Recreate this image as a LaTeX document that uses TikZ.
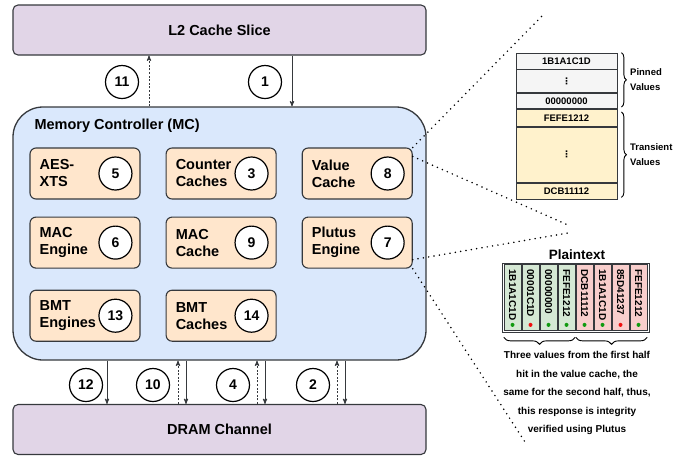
\documentclass[tikz,border=0pt]{standalone}
\usepackage{fontspec}
\setmainfont{Liberation Sans}
\newfontfamily\symfont{DejaVu Sans}
\usetikzlibrary{arrows,positioning,decorations.pathreplacing}
\definecolor{lila}{HTML}{E1D5E7}
\definecolor{mcblue}{HTML}{DAE8FC}
\definecolor{peach}{HTML}{FFE6CC}
\definecolor{pinfill}{HTML}{F5F5F5}
\definecolor{transfill}{HTML}{FFF2CC}
\definecolor{okfill}{HTML}{D5E8D4}
\definecolor{badfill}{HTML}{F8CECC}
\definecolor{dotok}{HTML}{109A10}
\definecolor{dotbad}{HTML}{F01010}
\definecolor{edge}{HTML}{36393D}
\newcommand{\bigfont}{\bfseries\fontsize{14.5}{17}\selectfont}
\newcommand{\smallfont}{\bfseries\fontsize{9.5}{15}\selectfont}
\newcommand{\threedots}{{\symfont\fontsize{9}{10}\selectfont ⋮}}
\tikzset{
    %Define standard arrow tip
    >=stealth',
    %Define style for the cache and dram slabs
    slab/.style={
           rectangle,
           rounded corners=5pt,
           draw=edge, line width=1.1pt,
           fill=lila,
           minimum width=413pt,
           minimum height=50pt,
           font=\bigfont},
    mcbox/.style={
           rectangle,
           rounded corners=30pt,
           draw=edge, line width=1.3pt,
           fill=mcblue,
           minimum width=413pt,
           minimum height=253pt},
    unitbox/.style={
           rectangle,
           rounded corners=6pt,
           draw=edge, line width=1.1pt,
           fill=peach,
           minimum width=110pt,
           minimum height=51pt},
    unitlabel/.style={
           align=left,
           inner sep=0pt,
           font=\bigfont},
    % numbered circles
    badge/.style={
           circle,
           draw=black, line width=1.2pt,
           fill=white,
           minimum size=33pt,
           inner sep=0pt,
           font=\bfseries\fontsize{14}{16}\selectfont},
    % Define arrow styles
    flow/.style={
           ->,
           line width=0.9pt,
           draw=edge},
    flowback/.style={
           ->,
           line width=0.9pt,
           draw=edge,
           dash pattern=on 2pt off 1.6pt},
    valcell/.style={
           rectangle,
           draw=edge, line width=0.8pt,
           minimum width=101pt,
           inner sep=0pt,
           font=\smallfont},
    ptcell/.style={
           rectangle,
           draw=edge, line width=0.7pt,
           minimum width=16.8pt,
           minimum height=66pt,
           inner sep=0pt},
    zoomline/.style={
           line width=1.7pt,
           line cap=round,
           dash pattern=on 0pt off 5.4pt},
    bracket/.style={
           decorate,
           decoration={brace, amplitude=#1},
           line width=0.9pt}
}
\begin{document}
\begin{tikzpicture}[x=1pt,y=-1pt]
\useasboundingbox (0,0) rectangle (697,459);
\node[slab] (l2) at (219.5,30) {L2 Cache Slice};
\node[mcbox] (mc) at (219.5,233.5) {};
\node[slab] (dram) at (219.5,429.5) {DRAM Channel};
\node[below right=12pt and 22pt of mc.north west, inner sep=0pt, font=\bigfont] (mctitle) {Memory Controller (MC)};
\node[unitbox] (aes) at (85,173.5) {};
\node[unitbox, right=25pt of aes] (ctr) {};
\node[unitbox, right=25pt of ctr] (vc) {};
\node[unitbox, below=17pt of aes] (mace) {};
\node[unitbox, right=25pt of mace] (macc) {};
\node[unitbox, right=25pt of macc] (plu) {};
\node[unitbox, below=21pt of mace] (bmte) {};
\node[unitbox, right=25pt of bmte] (bmtc) {};
\foreach \u/\txt/\n in {aes/AES-\\XTS/5, ctr/Counter\\Caches/3, vc/Value\\Cache/8,
    mace/MAC\\Engine/6, macc/MAC\\Cache/9, plu/Plutus\\Engine/7,
    bmte/BMT\\Engines/13, bmtc/BMT\\Caches/14}{
  \node[unitlabel, right=10pt of \u.west] (\u-txt) {\txt};
  \node[badge, left=8pt of \u.east] (n\n) {\n};
}
% traffic to and from the L2
\node[badge] (n11) at (122,82) {11};
\node[badge] (n1) at (265,82) {1};
\coordinate (a11) at ([xshift=27pt]n11.center);
\coordinate (a1) at ([xshift=27pt]n1.center);
\draw[flow] (l2.south -| a1) -- (mc.north -| a1);
\draw[flowback] (mc.north -| a11) -- (l2.south -| a11);
% traffic to and from the DRAM
\node[badge] (n12) at (86,385) {12};
\node[badge] (n10) at (153,385) {10};
\node[badge] (n4) at (233,385) {4};
\node[badge] (n2) at (313,385) {2};
\foreach \n/\dx in {12/21, 10/33, 4/32, 2/32}{
  \coordinate (d\n) at ([xshift=\dx pt]n\n.center);
  \draw[flow] (mc.south -| d\n) -- (dram.north -| d\n);
}
\foreach \n/\dx in {10/25, 4/24, 2/24}{
  \coordinate (u\n) at ([xshift=\dx pt]n\n.center);
  \draw[flowback] (dram.north -| u\n) -- (mc.south -| u\n);
}
% value cache contents
\node[valcell, fill=pinfill, minimum height=16pt] (pin1) at (566.5,61) {1B1A1C1D};
\node[valcell, fill=pinfill, minimum height=23pt, below=0pt of pin1] (pin2) {\threedots};
\node[valcell, fill=pinfill, minimum height=15pt, below=0pt of pin2] (pin3) {00000000};
\node[valcell, fill=transfill, minimum height=17pt, below=0pt of pin3] (tr1) {FEFE1212};
\node[valcell, fill=transfill, minimum height=55pt, below=0pt of tr1] (tr2) {\threedots};
\node[valcell, fill=transfill, minimum height=16pt, below=0pt of tr2] (tr3) {DCB11112};
\draw[bracket=5pt] ([xshift=4pt]pin1.north east) -- ([xshift=4pt,yshift=2pt]pin3.south east)
  node[midway, right=5pt, align=left, font=\smallfont] (pinlabel) {Pinned\\Values};
\draw[bracket=5pt] ([xshift=4pt,yshift=-3pt]tr1.north east) -- ([xshift=4pt,yshift=2pt]tr3.south east)
  node[midway, right=5pt, align=left, font=\smallfont] (translabel) {Transient\\Values};
% plaintext block
\node[font=\bfseries\fontsize{13.5}{16}\selectfont] (pttitle) at (577,255) {Plaintext};
\node[rectangle, draw=edge, line width=1pt, minimum width=147pt, minimum height=69pt, inner sep=0pt] (ptframe) at (575.5,297.5) {};
\foreach \val/\fc/\dc [count=\i] in {1B1A1C1D/okfill/dotok, 00001C1D/okfill/dotbad,
    00000000/okfill/dotok, FEFE1212/okfill/dotok, DCB11112/badfill/dotok,
    1B1A1C1D/badfill/dotok, 85D41237/badfill/dotbad, FEFE1212/badfill/dotok}{
  \node[ptcell, fill=\fc] (pc\i) at ({503.5+18*(\i-0.5)},297.5) {};
  \node[rotate=-90, anchor=west, inner sep=0pt, font=\bfseries\fontsize{10}{12}\selectfont] (pv\i) at ([yshift=-5pt]pc\i.north) {\val};
  \fill[\dc] ([yshift=6pt]pc\i.south) circle (2pt);
}
\draw[bracket=7pt] ([yshift=-6.5pt]pc4.south east) -- ([yshift=-6.5pt]pc1.south west);
\draw[bracket=7pt] ([yshift=-6.5pt]pc8.south east) -- ([yshift=-6.5pt]pc5.south west);
\node[anchor=north, align=center, inner sep=0pt, font=\bfseries\fontsize{10}{18.5}\selectfont] (desc) at (577,351.5)
  {Three values from the first half\\hit in the value cache, the\\same for the second half, thus,\\this response is integrity\\verified using Plutus};
% zoom lines
\coordinate (z1) at (545,13);
\coordinate (z2) at (568,225);
\coordinate (z3) at (568,233);
\coordinate (z4) at (525,442);
\draw[zoomline] (vc.north east) -- (z1);
\draw[zoomline] ([yshift=-9pt]vc.north east) -- (z2);
\draw[zoomline] ([yshift=9pt]plu.south east) -- (z3);
\draw[zoomline] (plu.south east) -- (z4);
\end{tikzpicture}
\end{document}
